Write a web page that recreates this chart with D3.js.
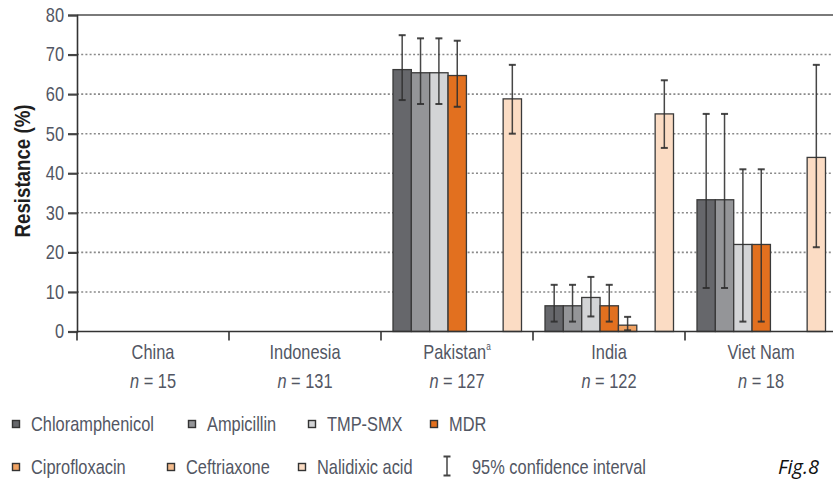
<!DOCTYPE html>
<html>
<head>
<meta charset="utf-8">
<title>resistance</title>
<style>
  body { margin: 0; background: #fff; }
  svg text { font-family: "Liberation Sans", Arial, sans-serif; fill: #525663; }
  .grid line { stroke: #8a8a8a; stroke-width: 1.6px; stroke-dasharray: 2,2.2; }
</style>
</head>
<body>
<svg class="chart" width="833" height="479"></svg>
<script src="https://cdn.jsdelivr.net/npm/d3@7"></script>
<script>
// countries and sample sizes
var countries = ["China", "Indonesia", "Pakistan", "India", "Viet Nam"];
var sampleSizes = [15, 131, 127, 122, 18];
var superscripts = ["", "", "a", "", ""];
var series = ["Chloramphenicol", "Ampicillin", "TMP-SMX", "MDR", "Ciprofloxacin", "Ceftriaxone", "Nalidixic acid"];
var colors = ["#66676b", "#949598", "#d3d4d6", "#e2701f", "#f0a262", "#f3bb8c", "#fbdcc4"];

// values per series, one per country (null = not tested)
var chloramphenicol = [null, null, 66.2, 6.5, 33.3];
var ampicillin      = [null, null, 65.4, 6.5, 33.3];
var tmpSmx          = [null, null, 65.4, 8.6, 22.0];
var mdr             = [null, null, 64.7, 6.5, 22.0];
var ciprofloxacin   = [null, null, null, 1.6, null];
var ceftriaxone     = [null, null, null, null, null];
var nalidixic       = [null, null, 58.8, 55.0, 44.0];

// 95% confidence intervals
var lowChloramphenicol = [null, null, 58.5, 2.5, 11.0];
var highChloramphenicol = [null, null, 74.9, 11.8, 55.0];
var lowAmpicillin = [null, null, 57.5, 2.5, 11.0];
var highAmpicillin = [null, null, 74.1, 11.8, 55.0];
var lowTmpSmx = [null, null, 57.5, 3.8, 2.5];
var highTmpSmx = [null, null, 74.1, 13.8, 41.0];
var lowMdr = [null, null, 56.8, 2.5, 2.5];
var highMdr = [null, null, 73.5, 11.8, 41.0];
var lowCipro = [null, null, null, 0.3, null];
var highCipro = [null, null, null, 3.7, null];
var lowCeftriaxone = [null, null, null, null, null];
var highCeftriaxone = [null, null, null, null, null];
var lowNalidixic = [null, null, 50.0, 46.4, 21.3];
var highNalidixic = [null, null, 67.4, 63.5, 67.4];

var yTicks = [0, 10, 20, 30, 40, 50, 60, 70, 80];

var values = [chloramphenicol, ampicillin, tmpSmx, mdr, ciprofloxacin, ceftriaxone, nalidixic];
var lows = [lowChloramphenicol, lowAmpicillin, lowTmpSmx, lowMdr, lowCipro, lowCeftriaxone, lowNalidixic];
var highs = [highChloramphenicol, highAmpicillin, highTmpSmx, highMdr, highCipro, highCeftriaxone, highNalidixic];

var bars = [];
series.forEach(function(s, i) {
    countries.forEach(function(c, j) {
        if (values[i][j] != null) {
            bars.push({series: s, country: c, value: values[i][j], low: lows[i][j], high: highs[i][j], color: colors[i]});
        }
    });
});

var SQ = 0.82; // horizontal squeeze to imitate the condensed face

var svg = d3.select('.chart');
var x = d3.scaleBand().domain(countries).range([77, 837]).padding(0);
var inner = d3.scaleBand().domain(series).range([12, 140.5]).padding(0);
var y = d3.scaleLinear().domain([0, 80]).range([331.5, 15]);

// grid
svg.append('g').attr('class', 'grid')
    .selectAll('line')
    .data(yTicks.filter(function(d) { return d > 0 && d < 80; }))
    .enter().append('line')
    .attr('x1', 77).attr('x2', 833)
    .attr('y1', function(d) { return y(d); })
    .attr('y2', function(d) { return y(d); });

svg.append('line')
    .attr('x1', 77).attr('x2', 833)
    .attr('y1', y(80)).attr('y2', y(80))
    .attr('stroke', '#7a7a7a').attr('stroke-width', 2);

// bars
svg.append('g')
    .selectAll('rect')
    .data(bars)
    .enter().append('rect')
    .attr('x', function(d) { return x(d.country) + inner(d.series); })
    .attr('y', function(d) { return y(d.value); })
    .attr('width', inner.bandwidth())
    .attr('height', function(d) { return y(0) - y(d.value); })
    .attr('fill', function(d) { return d.color; })
    .attr('stroke', '#3a3a3a')
    .attr('stroke-width', 1.3);

// error bars
var eb = svg.append('g')
    .selectAll('g')
    .data(bars)
    .enter().append('g')
    .attr('stroke', '#2e2e2e')
    .attr('stroke-width', 1.5)
    .attr('stroke-opacity', 0.88);
function cx(d) { return x(d.country) + inner(d.series) + inner.bandwidth() / 2; }
eb.append('line')
    .attr('x1', cx).attr('x2', cx)
    .attr('y1', function(d) { return y(d.low); })
    .attr('y2', function(d) { return y(d.high); });
eb.append('line')
    .attr('x1', function(d) { return cx(d) - 3.5; }).attr('x2', function(d) { return cx(d) + 3.5; })
    .attr('y1', function(d) { return y(d.high); }).attr('y2', function(d) { return y(d.high); })
    .attr('stroke-width', 2);
eb.append('line')
    .attr('x1', function(d) { return cx(d) - 3.5; }).attr('x2', function(d) { return cx(d) + 3.5; })
    .attr('y1', function(d) { return y(d.low); }).attr('y2', function(d) { return y(d.low); })
    .attr('stroke-width', 2);

// y axis
var yAxis = svg.append('g')
    .attr('transform', 'translate(77,0)')
    .call(d3.axisLeft(y).tickValues(yTicks).tickSize(9).tickPadding(4));
yAxis.select('.domain').attr('stroke', '#333').attr('stroke-width', 1.6);
yAxis.selectAll('.tick line').attr('stroke', '#444').attr('stroke-width', 2.2);
yAxis.selectAll('.tick text')
    .attr('font-size', 20)
    .attr('font-family', '"Liberation Sans", sans-serif')
    .attr('x', -13 / SQ)
    .attr('transform', 'scale(' + SQ + ',1)')
    .attr('fill', '#5c5a5e');

// x axis
var xAxis = svg.append('g')
    .attr('transform', 'translate(0,' + y(0) + ')');
xAxis.append('line')
    .attr('x1', 77).attr('x2', 833).attr('y1', 0).attr('y2', 0)
    .attr('stroke', '#333').attr('stroke-width', 1.6);
xAxis.selectAll('.ct')
    .data(countries)
    .enter().append('line')
    .attr('x1', function(d) { return x(d); }).attr('x2', function(d) { return x(d); })
    .attr('y1', 0).attr('y2', 9)
    .attr('stroke', '#333').attr('stroke-width', 1.6);

var labels = svg.append('g')
    .selectAll('g')
    .data(countries)
    .enter().append('g')
    .attr('transform', function(d) { return 'translate(' + (x(d) + x.bandwidth() / 2) + ',0) scale(' + SQ + ',1)'; });
var countryText = labels.append('text')
    .attr('y', 359)
    .attr('text-anchor', 'middle')
    .attr('font-size', 20);
countryText.append('tspan').text(function(d) { return d; });
countryText.append('tspan')
    .attr('font-size', 10)
    .attr('dy', -9)
    .text(function(d, i) { return superscripts[i]; });
var nText = labels.append('text')
    .attr('y', 388)
    .attr('text-anchor', 'middle')
    .attr('font-size', 20);
nText.append('tspan').attr('font-style', 'italic').text('n');
nText.append('tspan').text(function(d, i) { return ' = ' + sampleSizes[i]; });

// y title
svg.append('text')
    .attr('transform', 'translate(30,171) rotate(-90) scale(0.85,1)')
    .attr('text-anchor', 'middle')
    .attr('font-size', 22)
    .attr('font-weight', 'bold')
    .style('fill', '#1e1e1e')
    .text('Resistance (%)');

// legend
var legendX = [16, 192, 312, 434, 16, 171, 302];
var legendY = [424, 424, 424, 424, 467, 467, 467];
var lg = svg.append('g')
    .selectAll('g')
    .data(series)
    .enter().append('g')
    .attr('transform', function(d, i) { return 'translate(' + legendX[i] + ',' + legendY[i] + ')'; });
lg.append('rect')
    .attr('x', -3.5).attr('y', -3.5).attr('width', 7).attr('height', 7)
    .attr('fill', function(d, i) { return colors[i]; })
    .attr('stroke', '#333').attr('stroke-width', 1.4);
lg.append('text')
    .attr('transform', 'translate(15,6.5) scale(' + SQ + ',1)')
    .attr('font-size', 20)
    .text(function(d) { return d; });

var ci = svg.append('g').attr('transform', 'translate(447,466)').attr('stroke', '#444').attr('stroke-width', 1.5);
ci.append('line').attr('x1', 0).attr('x2', 0).attr('y1', -9.5).attr('y2', 9.5);
ci.append('line').attr('x1', -3.5).attr('x2', 3.5).attr('y1', -9.5).attr('y2', -9.5).attr('stroke-width', 2);
ci.append('line').attr('x1', -3.5).attr('x2', 3.5).attr('y1', 9.5).attr('y2', 9.5).attr('stroke-width', 2);
svg.append('text')
    .attr('transform', 'translate(472,473.5) scale(' + SQ + ',1)')
    .attr('font-size', 20)
    .text('95% confidence interval');

svg.append('text')
    .attr('x', 778).attr('y', 474)
    .attr('font-size', 20)
    .attr('font-style', 'italic')
    .style('font-family', '"Open Sans", "DejaVu Sans", sans-serif')
    .style('fill', '#111')
    .text('Fig.8');
</script>
</body>
</html>
